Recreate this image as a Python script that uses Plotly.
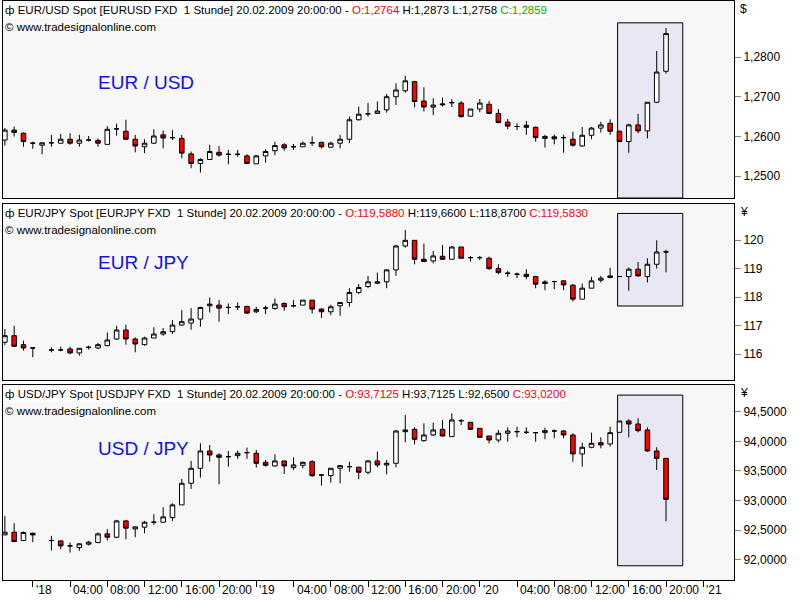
import plotly.graph_objects as go

hours = list(range(-3, 69))

eu_o = [1.2591,1.2616,1.2608,1.2583,1.2578,1.2584,1.2583,1.2593,1.2583,1.2591,1.2590,1.2580,1.2619,1.2613,1.2593,1.2574,1.2583,1.2604,1.2597,1.2595,1.2556,1.2532,1.2542,1.2560,1.2555,1.2555,1.2551,1.2531,1.2551,1.2564,1.2579,1.2574,1.2574,1.2584,1.2585,1.2573,1.2583,1.2593,1.2642,1.2657,1.2658,1.2667,1.2700,1.2715,1.2738,1.2689,1.2674,1.2682,1.2685,1.2684,1.2651,1.2669,1.2681,1.2658,1.2636,1.2625,1.2628,1.2623,1.2595,1.2599,1.2597,1.2593,1.2576,1.2603,1.2621,1.2633,1.2613,1.2587,1.2629,1.2614,1.2686,1.2764]
eu_h = [1.2621,1.2625,1.2610,1.2587,1.2584,1.2604,1.2606,1.2608,1.2604,1.2601,1.2595,1.2626,1.2632,1.2642,1.2604,1.2593,1.2618,1.2615,1.2616,1.2604,1.2562,1.2545,1.2579,1.2576,1.2566,1.2566,1.2555,1.2553,1.2568,1.2587,1.2583,1.2581,1.2587,1.2600,1.2587,1.2587,1.2604,1.2650,1.2675,1.2684,1.2688,1.2707,1.2734,1.2753,1.2740,1.2724,1.2696,1.2698,1.2694,1.2689,1.2669,1.2694,1.2689,1.2669,1.2644,1.2633,1.2639,1.2625,1.2604,1.2605,1.2604,1.2612,1.2624,1.2624,1.2637,1.2643,1.2615,1.2632,1.2657,1.2686,1.2815,1.2873]
eu_l = [1.2577,1.2600,1.2574,1.2569,1.2555,1.2574,1.2583,1.2579,1.2574,1.2587,1.2574,1.2580,1.2602,1.2591,1.2560,1.2558,1.2581,1.2570,1.2591,1.2545,1.2520,1.2509,1.2541,1.2549,1.2530,1.2549,1.2530,1.2531,1.2534,1.2553,1.2564,1.2566,1.2574,1.2576,1.2570,1.2572,1.2570,1.2583,1.2640,1.2650,1.2657,1.2660,1.2679,1.2710,1.2673,1.2663,1.2654,1.2675,1.2674,1.2647,1.2651,1.2661,1.2656,1.2633,1.2618,1.2616,1.2604,1.2587,1.2572,1.2580,1.2559,1.2574,1.2574,1.2593,1.2610,1.2604,1.2587,1.2559,1.2608,1.2595,1.2684,1.2758]
eu_c = [1.2616,1.2610,1.2587,1.2583,1.2584,1.2584,1.2593,1.2583,1.2591,1.2591,1.2583,1.2618,1.2619,1.2593,1.2576,1.2583,1.2601,1.2596,1.2597,1.2558,1.2532,1.2542,1.2562,1.2553,1.2555,1.2555,1.2532,1.2551,1.2562,1.2577,1.2571,1.2574,1.2583,1.2584,1.2574,1.2583,1.2593,1.2642,1.2656,1.2657,1.2664,1.2700,1.2717,1.2740,1.2688,1.2674,1.2679,1.2680,1.2685,1.2650,1.2669,1.2684,1.2658,1.2635,1.2626,1.2625,1.2623,1.2597,1.2600,1.2594,1.2597,1.2578,1.2603,1.2621,1.2629,1.2613,1.2587,1.2629,1.2614,1.2686,1.2762,1.2859]

N = None
ej_o = [116.419,116.651,116.337,116.221,N,116.151,116.151,116.186,116.047,116.244,116.221,116.302,116.535,116.849,116.535,116.337,116.570,116.709,116.791,117.023,117.093,117.233,117.698,117.721,117.640,117.663,117.675,117.488,117.616,117.605,117.779,117.698,117.721,117.896,117.582,117.488,117.698,117.814,118.163,118.372,118.488,118.535,118.954,119.791,119.988,119.326,119.267,119.430,119.326,119.756,119.384,119.384,119.361,119.000,118.837,118.802,118.802,118.721,118.477,118.546,118.570,118.419,117.930,118.314,118.593,118.744,118.721,118.721,118.977,118.721,119.151,119.588]
ej_h = [116.884,117.000,116.477,116.221,N,116.244,116.268,116.268,116.209,116.302,116.395,116.768,117.000,117.035,116.593,116.616,116.942,116.919,117.198,117.547,117.616,117.663,117.988,117.896,117.779,117.814,117.698,117.663,117.698,117.954,117.814,117.896,117.896,117.896,117.616,117.733,117.814,118.314,118.454,118.744,118.860,118.977,119.826,120.349,119.988,119.872,119.616,119.826,119.791,119.756,119.442,119.442,119.419,119.151,118.919,118.860,118.977,118.744,118.593,118.570,118.593,118.454,118.477,118.709,118.744,119.035,118.721,119.035,119.233,119.361,119.988,119.660]
ej_l = [116.326,116.279,116.128,115.896,N,116.070,116.105,116.012,115.954,116.163,116.186,116.279,116.500,116.337,116.070,116.302,116.570,116.651,116.709,117.000,116.861,116.965,117.465,117.140,117.407,117.547,117.407,117.442,117.407,117.558,117.523,117.640,117.721,117.430,117.268,117.372,117.349,117.663,118.105,118.314,118.454,118.314,118.744,119.733,119.151,119.233,119.186,119.302,119.326,119.361,119.244,119.302,118.954,118.802,118.709,118.663,118.628,118.314,118.244,118.279,118.244,117.849,117.930,118.314,118.512,118.663,118.721,118.221,118.721,118.512,119.000,118.870]
ej_c = [116.651,116.279,116.221,116.221,N,116.151,116.151,116.047,116.209,116.244,116.337,116.500,116.849,116.535,116.361,116.570,116.709,116.791,117.023,117.140,117.233,117.640,117.756,117.616,117.640,117.663,117.442,117.570,117.616,117.756,117.663,117.698,117.896,117.582,117.488,117.663,117.814,118.163,118.337,118.535,118.535,118.954,119.791,119.988,119.326,119.244,119.442,119.326,119.756,119.361,119.384,119.384,119.000,118.860,118.837,118.802,118.721,118.454,118.535,118.546,118.430,117.930,118.314,118.570,118.663,118.686,118.721,118.977,118.744,119.151,119.581,119.583]

uj_o = [92.421,92.466,92.326,92.449,N,92.326,92.320,92.236,92.208,92.264,92.292,92.438,92.382,92.657,92.522,92.551,92.635,92.635,92.713,92.927,93.292,93.545,93.837,93.770,93.741,93.758,93.809,93.798,93.646,93.584,93.669,93.556,93.595,93.657,93.433,93.421,93.545,93.573,93.562,93.478,93.669,93.601,93.629,94.163,94.202,94.011,94.107,94.202,94.079,94.348,94.320,94.219,94.090,94.022,94.135,94.163,94.152,94.146,94.146,94.174,94.174,94.107,93.787,93.899,93.977,93.955,94.152,94.343,94.292,94.191,93.837,93.7125]
uj_h = [92.742,92.618,92.478,92.461,N,92.404,92.326,92.292,92.281,92.320,92.461,92.517,92.674,92.674,92.562,92.657,92.770,92.888,92.955,93.365,93.669,93.966,93.938,93.798,93.837,93.843,93.893,93.854,93.685,93.781,93.669,93.730,93.657,93.680,93.433,93.545,93.601,93.657,93.573,93.685,93.826,93.685,94.191,94.444,94.236,94.303,94.315,94.360,94.472,94.376,94.331,94.219,94.090,94.191,94.236,94.247,94.236,94.146,94.230,94.202,94.191,94.135,93.977,94.146,94.067,94.247,94.343,94.371,94.388,94.236,93.899,93.7125]
uj_l = [92.421,92.298,92.326,92.298,N,92.157,92.180,92.124,92.152,92.242,92.281,92.326,92.365,92.348,92.382,92.449,92.590,92.635,92.657,92.927,93.197,93.388,93.657,93.275,93.573,93.702,93.702,93.556,93.573,93.573,93.449,93.517,93.545,93.399,93.253,93.303,93.292,93.489,93.360,93.444,93.562,93.444,93.562,93.983,93.949,93.994,94.090,94.079,94.079,94.275,94.191,94.067,93.966,93.983,93.994,94.067,94.124,93.994,94.034,94.051,94.051,93.657,93.573,93.882,93.882,93.910,94.152,94.067,94.152,93.826,93.517,92.65]
uj_c = [92.466,92.309,92.461,92.421,N,92.326,92.236,92.236,92.270,92.298,92.438,92.382,92.657,92.534,92.556,92.635,92.635,92.725,92.927,93.292,93.545,93.837,93.770,93.730,93.741,93.798,93.809,93.629,93.595,93.669,93.584,93.601,93.646,93.421,93.433,93.545,93.590,93.573,93.478,93.669,93.601,93.629,94.174,94.191,94.034,94.107,94.191,94.090,94.360,94.348,94.202,94.067,94.022,94.135,94.174,94.163,94.152,94.146,94.180,94.174,94.107,93.787,93.899,93.966,93.938,94.146,94.343,94.292,94.180,93.837,93.713,93.02]

tick_hours = list(range(0, 73, 4))
tick_labels = ["'18","04:00","08:00","12:00","16:00","20:00","'19","04:00","08:00","12:00","16:00","20:00","'20","04:00","08:00","12:00","16:00","20:00","'21"]

panels = [
    dict(o=eu_o, h=eu_h, l=eu_l, c=eu_c, name="EUR / USD", sym="$", lab_dy=81,
         title="EUR/USD Spot [EURUSD FXD&nbsp; 1 Stunde] 20.02.2009 20:00:00 - ",
         ohlc=("O:1,2764", "H:1,2873 L:1,2758 ", "C:1,2859"), ccol="#00b000",
         rng=[1.2445, 1.2941], tv=[1.25, 1.26, 1.27, 1.28], fmt="{:.4f}",
         dom=[1-198/600, 1-1/600], box=[62.8, 69.8, 1.2445, 1.2886]),
    dict(o=ej_o, h=ej_h, l=ej_l, c=ej_c, name="EUR / JPY", sym="¥", lab_dy=58,
         title="EUR/JPY Spot [EURJPY FXD&nbsp; 1 Stunde] 20.02.2009 20:00:00 - ",
         ohlc=("O:119,5880", "H:119,6600 L:118,8700 ", "C:119,5830"), ccol="#ff0000",
         rng=[115.10, 121.26], tv=[116, 117, 118, 119, 120], fmt="{:.0f}",
         dom=[1-380/600, 1-204/600], box=[62.8, 69.8, 117.69, 120.93]),
    dict(o=uj_o, h=uj_h, l=uj_l, c=uj_c, name="USD / JPY", sym="¥", lab_dy=63,
         title="USD/JPY Spot [USDJPY FXD&nbsp; 1 Stunde] 20.02.2009 20:00:00 - ",
         ohlc=("O:93,7125", "H:93,7125 L:92,6500 ", "C:93,0200"), ccol="#ff0000",
         rng=[91.66, 94.95], tv=[92, 92.5, 93, 93.5, 94, 94.5], fmt="{:.4f}",
         dom=[1-580/600, 1-385/600], box=[62.8, 69.8, 91.90, 94.78]),
]

fig = go.Figure()
FONT = "Liberation Sans"
for k, p in enumerate(panels):
    sx = "" if k == 0 else str(k+1)
    idx = [i for i in range(len(hours)) if p["o"][i] is not None]
    fig.add_trace(go.Candlestick(
        x=[hours[i] for i in idx], open=[p["o"][i] for i in idx], high=[p["h"][i] for i in idx],
        low=[p["l"][i] for i in idx], close=[p["c"][i] for i in idx],
        xaxis="x"+sx, yaxis="y"+sx, whiskerwidth=0,
        increasing=dict(fillcolor="white", line=dict(color="black", width=1)),
        decreasing=dict(fillcolor="#ff0000", line=dict(color="black", width=1)),
        showlegend=False, hoverinfo="skip"))
    fig.update_layout(**{
        "xaxis"+sx: dict(domain=[3/800, 734/800], range=[-3.2, 75.3], anchor="y"+sx,
                         rangeslider=dict(visible=False), showgrid=False, zeroline=False,
                         showline=True, mirror=True, linecolor="black", linewidth=1,
                         tickvals=tick_hours, showticklabels=False,
                         ticks="outside" if k == 2 else "", ticklen=6, tickcolor="black"),
        "yaxis"+sx: dict(domain=p["dom"], range=p["rng"], anchor="x"+sx, side="right",
                         showgrid=False, zeroline=False, showline=True, mirror=True,
                         linecolor="black", linewidth=1, ticks="outside", ticklen=6,
                         tickcolor="#808080", tickvals=p["tv"],
                         ticktext=[p["fmt"].format(v).replace(".", ",") for v in p["tv"]],
                         tickfont=dict(family=FONT, size=12, color="black")),
    })
    b = p["box"]
    fig.add_shape(type="rect", xref="x"+sx, yref="y"+sx, x0=b[0], x1=b[1], y0=b[2], y1=b[3],
                  fillcolor="#e8e8f4", line=dict(color="black", width=1), layer="below")
    ytop = p["dom"][1]
    head = (p["title"] + "<span style='color:#ff0000'>" + p["ohlc"][0] + "</span> " + p["ohlc"][1] +
            "<span style='color:" + p["ccol"] + "'>" + p["ohlc"][2] + "</span>")
    fig.add_annotation(xref="paper", yref="paper", x=3/800, y=ytop - 1/600, xanchor="left", yanchor="top",
                       text="ф " + head, showarrow=False, bgcolor="white",
                       font=dict(family=FONT, size=11.5, color="black"), borderpad=1)
    fig.add_annotation(xref="paper", yref="paper", x=3/800, y=ytop - 18/600, xanchor="left", yanchor="top",
                       text="© www.tradesignalonline.com", showarrow=False,
                       font=dict(family=FONT, size=11.5, color="black"))
    fig.add_annotation(xref="paper", yref="paper", x=96/800, y=ytop - p["lab_dy"]/600,
                       xanchor="left", yanchor="middle", text=p["name"], showarrow=False,
                       font=dict(family=FONT, size=19, color="#1010e8"))
    fig.add_annotation(xref="paper", yref="paper", x=738/800, y=ytop - 8/600, xanchor="left", yanchor="middle",
                       text=p["sym"], showarrow=False, font=dict(family=FONT, size=12, color="black"))

for hv, lab in zip(tick_hours, tick_labels):
    fig.add_annotation(xref="x3", yref="paper", x=hv, y=1-590/600, xanchor="left", yanchor="middle",
                       xshift=1, text=lab, showarrow=False, font=dict(family=FONT, size=12, color="black"))

fig.update_layout(width=800, height=600, margin=dict(l=0, r=0, t=0, b=0),
                  paper_bgcolor="white", plot_bgcolor="#f7f7f7")
fig.write_html("out.html", config={"displayModeBar": False},
               post_script="document.body.style.margin='0';document.body.style.padding='0';")
